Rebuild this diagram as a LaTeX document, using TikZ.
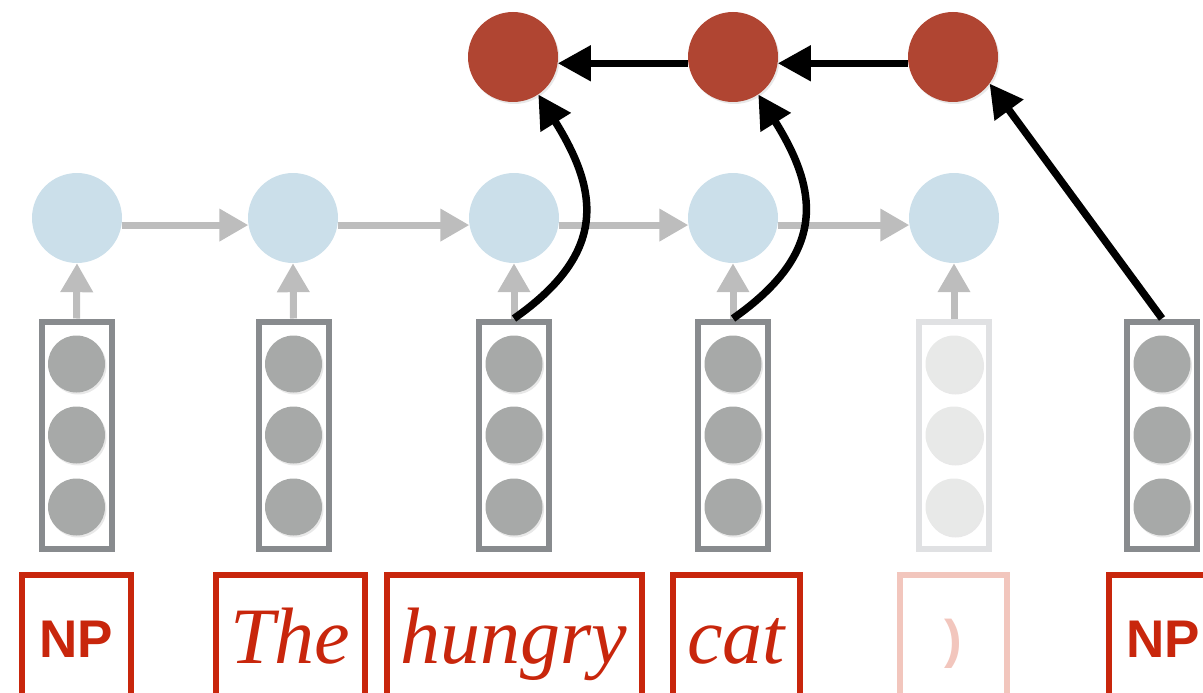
\documentclass[tikz,border=0pt]{standalone}
\usepackage{fontspec}
\setmainfont{Liberation Serif}
\setsansfont{Liberation Sans}
\usepackage{tikz}
\usetikzlibrary{arrows.meta,shadows}
\definecolor{tagred}{RGB}{200,38,12}
\definecolor{tagpink}{RGB}{242,198,189}
\definecolor{stackred}{RGB}{176,69,50}
\definecolor{lstmblue}{RGB}{203,223,234}
\definecolor{boxgray}{RGB}{136,139,142}
\definecolor{dotgray}{RGB}{167,169,168}
\definecolor{fadegray}{RGB}{224,225,227}
\definecolor{fadedot}{RGB}{232,233,232}
\definecolor{arrowgray}{RGB}{189,189,189}

\tikzset{
  softshadow/.style={drop shadow={shadow xshift=1.5pt, shadow yshift=-2pt, opacity=0.18}},
  stackcell/.style={circle, fill=stackred, minimum size=90pt, inner sep=0pt, softshadow},
  lstmcell/.style={circle, fill=lstmblue, minimum size=90pt, inner sep=0pt},
  vecbox/.style={rectangle, draw=boxgray, line width=6pt, minimum width=70pt,
    minimum height=227pt, inner sep=0pt},
  vecdot/.style={circle, fill=dotgray, minimum size=57pt, inner sep=0pt, softshadow},
  wordtag/.style={rectangle, draw=tagred, text=tagred, line width=6pt, inner sep=0pt,
    anchor=north, text height=88pt, text depth=60pt,
    font=\fontsize{80}{90}\selectfont\itshape},
  nttag/.style={wordtag, text height=82pt, text depth=66pt,
    font=\fontsize{53}{60}\selectfont\sffamily\bfseries},
  grayarrow/.style={draw=arrowgray, line width=7pt, -{Triangle[length=29pt,width=31pt]}},
  blackarrow/.style={draw=black, line width=7.5pt, -{Triangle[length=33pt,width=34pt]}}
}

\begin{document}
\begin{tikzpicture}[x=1pt, y=-1pt]
  \useasboundingbox (0,0) rectangle (1203,693);
  \clip (0,0) rectangle (1203,693);

  % Stack (top row)
  \node[stackcell] (s1) at (513,57) {};
  \node[stackcell] (s2) at (733,57) {};
  \node[stackcell] (s3) at (953,57) {};

  % LSTM over the buffer
  \node[lstmcell] (h1) at (77,218) {};
  \node[lstmcell] (h2) at (293,218) {};
  \node[lstmcell] (h3) at (514,218) {};
  \node[lstmcell] (h4) at (733,218) {};
  \node[lstmcell] (h5) at (954,218) {};

  % Word vectors
  \node[vecbox] (v1) at (76.5,435) {};
  \node[vecbox] (v2) at (293.5,435) {};
  \node[vecbox] (v3) at (514,435) {};
  \node[vecbox] (v4) at (733,435) {};
  \node[vecbox, draw=fadegray] (v5) at (954,435) {};
  \node[vecbox] (v6) at (1162,435) {};
  \foreach \c in {1,2,3,4,6} {
    \node[vecdot] (d\c a) at ([yshift=-72pt]v\c.center) {};
    \node[vecdot] (d\c b) at (v\c.center) {};
    \node[vecdot] (d\c c) at ([yshift=71pt]v\c.center) {};
  }
  \node[vecdot, fill=fadedot] (d5a) at ([yshift=-72pt]v5.center) {};
  \node[vecdot, fill=fadedot] (d5b) at (v5.center) {};
  \node[vecdot, fill=fadedot] (d5c) at ([yshift=71pt]v5.center) {};

  % Tags and words
  \node[nttag, minimum width=109pt] (t1) at (76,572) {NP};
  \node[wordtag, minimum width=149pt] (t2) at (290,572) {The};
  \node[wordtag, minimum width=255pt] (t3) at (514,572) {hungry};
  \node[wordtag, minimum width=127pt] (t4) at (736,572) {cat};
  \node[nttag, draw=tagpink, text=tagpink, minimum width=107pt] (t5) at (953,572) {)};
  \node[nttag, minimum width=109pt] (t6) at (1163,572) {NP};

  % Gray recurrent and input arrows
  \draw[grayarrow] (h1.-9) -- (h2.189);
  \draw[grayarrow] (h2.-9) -- (h3.189);
  \draw[grayarrow] (h3.-9) -- (h4.189);
  \draw[grayarrow] (h4.-9) -- (h5.189);
  \draw[grayarrow] (v1.north) -- (h1.south);
  \draw[grayarrow] (v2.north) -- (h2.south);
  \draw[grayarrow] (v3.north) -- (h3.south);
  \draw[grayarrow] (v4.north) -- (h4.south);
  \draw[grayarrow] (v5.north) -- (h5.south);

  % Stack composition
  \draw[blackarrow] (s3.188) -- (s2.-8);
  \draw[blackarrow] (s2.188) -- (s1.-8);
  \draw[blackarrow] (v3.north) to[out=35, in=-58, looseness=1.3] (s1.-56);
  \draw[blackarrow] (v4.north) to[out=35, in=-58, looseness=1.3] (s2.-56);
  \draw[blackarrow] (v6.north) -- (s3.-36);
\end{tikzpicture}
\end{document}
